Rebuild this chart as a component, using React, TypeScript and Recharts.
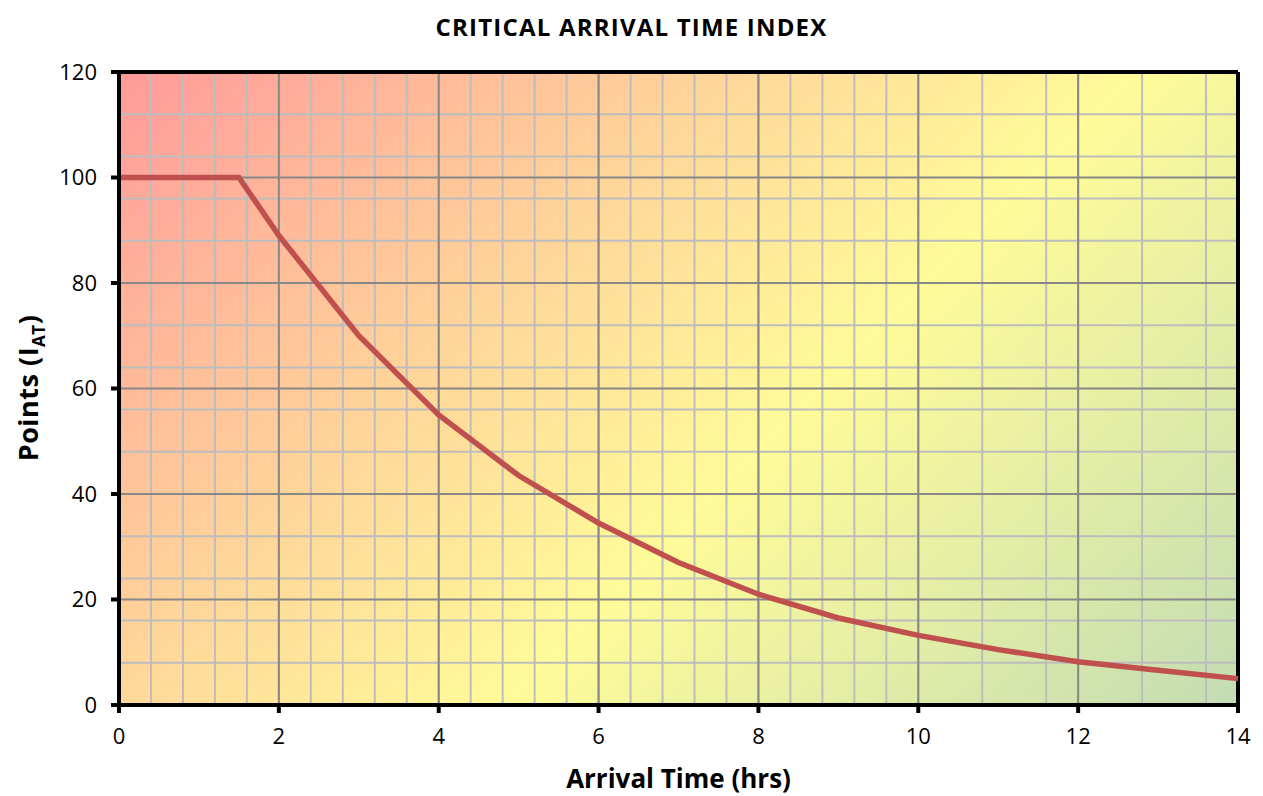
import React from "react";
import {
  CartesianGrid,
  Line,
  LineChart,
  ReferenceLine,
  XAxis,
  YAxis
} from "recharts";

// arrival time (hrs) and index points
const arrivalHours = [0, 1.5, 2, 3, 4, 5, 6, 7, 8, 9, 10, 11, 12, 13, 14];
const indexPoints = [100, 100, 89, 70, 55, 43.5, 34.5, 27, 21, 16.5, 13.2, 10.5, 8.2, 6.6, 5];

const xTicks = [0, 2, 4, 6, 8, 10, 12, 14];
const yTicks = [0, 20, 40, 60, 80, 100, 120];
const xMinor = Array.from({ length: 36 }, (_, i) => +(i * 0.4).toFixed(1));
const yMinor = Array.from({ length: 31 }, (_, i) => i * 4);

const data = arrivalHours.map((t, i) => ({ t, points: indexPoints[i] }));

const FONT = "'Open Sans', sans-serif";
const tickStyle = { fontSize: 22, fill: "#000", fontFamily: FONT };

function YTitle(): React.ReactElement {
  return (
    <text
      x={0}
      y={0}
      transform="translate(38 388) rotate(-90)"
      textAnchor="middle"
      fontFamily={FONT}
      fontWeight="bold"
      fontSize={27}
      letterSpacing={0.5}
      fill="#000"
    >
      Points (I
      <tspan fontSize={17} dy={7}>AT</tspan>
      <tspan dy={-7}>)</tspan>
    </text>
  );
}

export default function App(): React.ReactElement {
  return (
    <div style={{ position: "absolute", left: 0, top: 0, width: 1263, height: 796, background: "#fff", fontFamily: FONT }}>
      <div
        style={{
          position: "absolute",
          top: 10,
          left: 0,
          width: 1263,
          textAlign: "center",
          fontSize: 24,
          letterSpacing: 1.2,
          lineHeight: "34px",
          fontWeight: "bold",
          color: "#000"
        }}
      >
        CRITICAL ARRIVAL TIME INDEX
      </div>
      <LineChart
        width={1263}
        height={796}
        data={data}
        margin={{ top: 72, right: 25, bottom: 0, left: 0 }}
      >
        <defs>
          <linearGradient id="bgFade" gradientUnits="userSpaceOnUse" x1={119} y1={72} x2={995} y2={948}>
            <stop offset="0" stopColor="#FF9A9A" />
            <stop offset="0.33" stopColor="#FFD39A" />
            <stop offset="0.58" stopColor="#FFFB99" />
            <stop offset="0.78" stopColor="#E2EDA6" />
            <stop offset="1" stopColor="#C3DCB3" />
          </linearGradient>
        </defs>
        <CartesianGrid
          fill="url(#bgFade)"
          stroke="#BDBDBD"
          strokeWidth={2}
          verticalValues={xMinor}
          horizontalValues={yMinor}
        />
        <CartesianGrid
          stroke="#888888"
          strokeWidth={2}
          verticalValues={xTicks}
          horizontalValues={yTicks}
        />
        <XAxis
          dataKey="t"
          type="number"
          domain={[0, 14]}
          ticks={xTicks}
          height={91}
          tick={tickStyle}
          tickSize={8}
          tickMargin={15}
          axisLine={{ stroke: "#000", strokeWidth: 4 }}
          tickLine={{ stroke: "#000", strokeWidth: 4 }}
          label={{
            value: "Arrival Time (hrs)",
            position: "insideBottom",
            offset: 8,
            style: { fontSize: 26, fontWeight: "bold", fill: "#000", fontFamily: FONT }
          }}
        />
        <YAxis
          type="number"
          domain={[0, 120]}
          ticks={yTicks}
          width={119}
          tick={tickStyle}
          tickSize={8}
          tickMargin={14}
          axisLine={{ stroke: "#000", strokeWidth: 4 }}
          tickLine={{ stroke: "#000", strokeWidth: 4 }}
          label={<YTitle />}
        />
        <ReferenceLine y={120} stroke="#000" strokeWidth={4} />
        <ReferenceLine x={14} stroke="#000" strokeWidth={4} />
        <Line
          type="linear"
          dataKey="points"
          stroke="#C0504D"
          strokeWidth={5.5}
          dot={false}
          activeDot={false}
          isAnimationActive={false}
        />
      </LineChart>
    </div>
  );
}
